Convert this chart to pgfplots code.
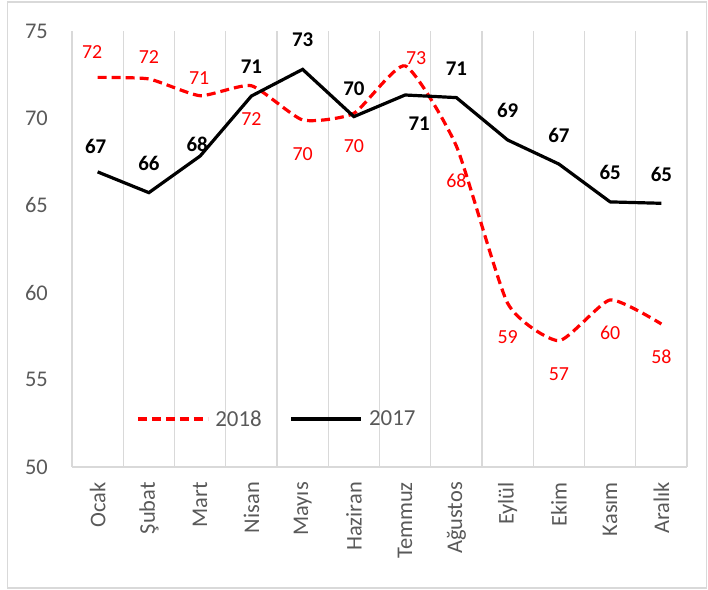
\documentclass[border=0pt]{standalone}
\usepackage{fontspec}
\setmainfont{Carlito}
\usepackage{pgfplots}
\usepackage{pgfplotstable}
\pgfplotsset{compat=1.18}
\definecolor{gridgray}{HTML}{D9D9D9}
\definecolor{txtgray}{HTML}{595959}
\definecolor{xred}{HTML}{FF0000}

\pgfplotstableread{
x y lab dx dy
0 72.34 72 -5.5 25
1 72.25 72 0 22
2 71.29 71 -1 18
3 71.86 72 0 -33
4 69.90 70 0 -34
5 70.28 70 0 -33
6 73.00 73 11 8
7 68.40 68 0 -35
8 59.39 59 0 -34
9 57.24 57 0 -33
10 59.58 60 0 -33
11 58.20 58 0 -33
}\redtab

\pgfplotstableread{
x y lab dx dy
0 66.92 67 -2 25
1 65.73 66 0 29
2 67.83 68 -3 12
3 71.27 71 0 29
4 72.80 73 0 30
5 70.09 70 0 28
6 71.33 71 14 -29
7 71.18 71 0 29
8 68.75 69 0 30
9 67.37 67 0 28.5
10 65.20 65 0 29
11 65.12 65 0 29
}\blacktab

\begin{document}
\begin{tikzpicture}[x=1bp,y=1bp]
\useasboundingbox (0,0) rectangle (708,590);
\draw[gridgray, line width=1.3bp] (7.5,2) rectangle (706.5,588);
\begin{axis}[
  at={(72bp,123bp)}, anchor=south west,
  scale only axis, width=615bp, height=436bp,
  xmin=-0.5, xmax=11.5, ymin=50, ymax=75,
  xtick={0,...,11},
  xticklabels={Ocak,Şubat,Mart,Nisan,Mayıs,Haziran,Temmuz,Ağustos,Eylül,Ekim,Kasım,Aralık},
  minor xtick={-0.5,0.5,...,11.5},
  xminorgrids=true,
  minor grid style={gridgray, line width=1.3bp},
  ytick={50,55,...,75},
  extra y ticks={50}, extra y tick labels={},
  extra y tick style={ymajorgrids=true, major grid style={gridgray, line width=1.3bp}},
  axis line style={draw=none},
  major tick length=0pt, minor tick length=0pt,
  tick label style={font=\fontsize{22.5}{27}\selectfont, text=txtgray},
  xticklabel style={rotate=90, anchor=east, inner sep=0pt},
  yticklabel style={anchor=east, inner sep=0pt},
  xticklabel shift=15bp, yticklabel shift=24bp,
  /pgf/number format/assume math mode=true,
  clip=false,
  legend columns=2,
  legend style={at={(0.104,0.110)}, anchor=west, draw=none, fill=none,
    inner sep=0pt, font=\fontsize{23}{27}\selectfont, text=txtgray,
    /tikz/every even column/.append style={column sep=28bp},
    /tikz/every odd column/.append style={column sep=6bp},
    nodes={inner sep=0pt}},
  legend image code/.code={\draw[#1] (0bp,0bp) -- (70bp,0bp);},
]
\addplot[xred, line width=3.2bp, dash pattern=on 9bp off 5bp, smooth, tension=0.33,
  nodes near coords, point meta=explicit symbolic,
  visualization depends on={\thisrow{dx} \as \dx},
  visualization depends on={\thisrow{dy} \as \dy},
  every node near coord/.append style={anchor=center, xshift=\dx bp, yshift=\dy bp,
    font=\fontsize{20}{24}\selectfont, text=xred, inner sep=0pt}]
  table[x=x, y=y, meta=lab]{\redtab};
\addlegendentry{2018}
\addplot[black, line width=3.2bp,
  nodes near coords, point meta=explicit symbolic,
  visualization depends on={\thisrow{dx} \as \dx},
  visualization depends on={\thisrow{dy} \as \dy},
  every node near coord/.append style={anchor=center, xshift=\dx bp, yshift=\dy bp,
    font=\bfseries\fontsize{21}{25}\selectfont, text=black, inner sep=0pt}]
  table[x=x, y=y, meta=lab]{\blacktab};
\addlegendentry{2017}
\end{axis}
\end{tikzpicture}
\end{document}
